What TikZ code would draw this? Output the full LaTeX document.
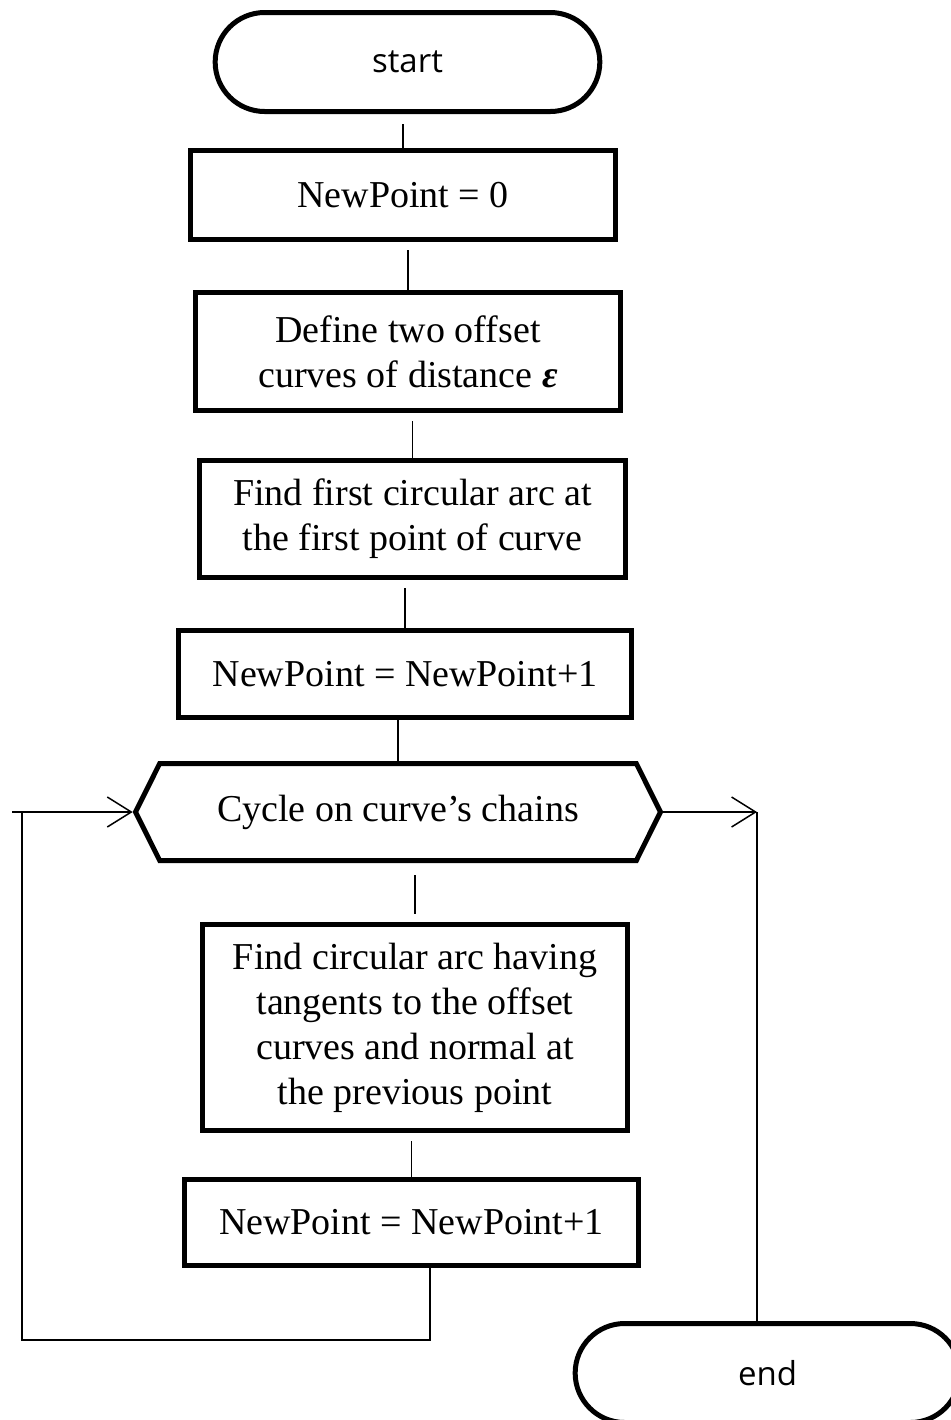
\documentclass[tikz,border=0pt]{standalone}
\usepackage{fontspec}
\setmainfont{Liberation Serif}
\newfontfamily\termfont{Open Sans}
\usetikzlibrary{shapes.misc,shapes.symbols,arrows.meta}

\begin{document}
\begin{tikzpicture}[x=0.5pt,y=-0.5pt,
    every node/.style={font=\fontsize{19}{22.5}\selectfont},
    term/.style={rounded rectangle, draw, line width=2.5pt, minimum width=199pt,
        minimum height=49.5pt, font=\termfont\fontsize{16.5}{19}\selectfont},
    proc/.style={rectangle, draw, line width=2.5pt, align=center, inner sep=0pt},
    cyclebox/.style={signal, signal to=west and east, signal pointer angle=127,
        draw, line width=2.5pt, inner sep=0pt},
    link/.style={line width=0.75pt},
    arr/.style={link, -{Straight Barb[length=12pt,width=15pt]}}]
\useasboundingbox (0,0) rectangle (951,1420);

% blocks
\node[term] (start) at (407.5,62) {start};
\node[proc, minimum width=212.5pt, minimum height=44.5pt] (init) at (403,195) {NewPoint = 0};
\node[proc, minimum width=212.5pt, minimum height=59pt] (offset) at (408,351.5)
    {Define two offset\\curves of distance \textbf{\textit{ε}}};
\node[proc, minimum width=213pt, minimum height=58.5pt] (firstarc) at (412.5,519)
    {Find first circular arc at\\the first point of curve};
\node[proc, minimum width=226.5pt, minimum height=43.5pt] (inc1) at (405,674) {NewPoint = NewPoint+1};
\node[cyclebox, minimum width=262.5pt, minimum height=48.5pt] (cycle) at (398,812)
    {Cycle on curve’s chains};
\node[proc, minimum width=212.5pt, minimum height=103pt] (arc) at (415,1027.5)
    {Find circular arc having\\tangents to the offset\\curves and normal at\\the previous point};
\node[proc, minimum width=227pt, minimum height=43pt] (inc2) at (411.5,1222.5) {NewPoint = NewPoint+1};
\node[term] (stop) at (767.5,1373) {end};

% links
\draw[link, shorten <=5pt] (start.south -| init.north) -- (init.north);
\draw[link, shorten <=4pt] (init.south -| offset.north) -- (offset.north);
\draw[link, shorten <=4pt] (offset.south -| firstarc.north) -- (firstarc.north);
\draw[link, shorten <=4pt] (firstarc.south -| inc1.north) -- (inc1.north);
\draw[link] (inc1.south -| cycle.north) -- (cycle.north);
\draw[link, shorten <=6pt, shorten >=4pt] (cycle.south -| arc.north) -- (arc.north);
\draw[link, shorten <=4pt] (arc.south -| inc2.north) -- (inc2.north);

% loop back
\coordinate (loopR) at (430,1340);
\coordinate (loopL) at (22,1340);
\coordinate (loopT) at (12,812);
\draw[link] (loopR |- inc2.south) -- (loopR) -- (loopL) -- (loopL |- loopT);
\draw[arr] (loopT) -- (cycle.west);

% exit
\coordinate (exitR) at (757,812);
\draw[arr] (cycle.east) -- (exitR);
\draw[link] (exitR) -- (exitR |- stop.north);
\end{tikzpicture}
\end{document}
